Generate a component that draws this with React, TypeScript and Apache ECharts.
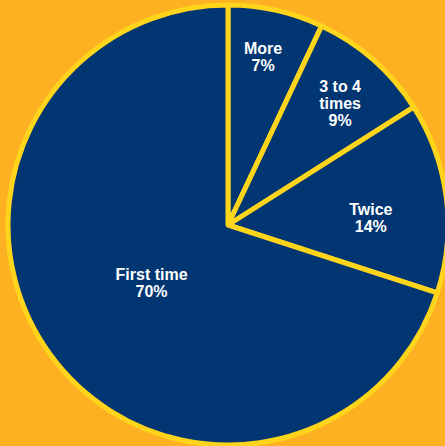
import React, { useEffect, useRef } from "react";
import * as echarts from "echarts";

const categories = ["More", "3 to 4\ntimes", "Twice", "First time"];
const values = [7, 9, 14, 70];

// label placement (layout only): fraction of radius and angular nudge in degrees
const labelRadiusFactor = [0.78, 0.75, 0.65, 0.435];
const labelAngleShift = [-0.8, 1.4, 4.2, -1];

const CX = 228;
const CY = 225;
const R = 220;

export default function App() {
  const ref = useRef<HTMLDivElement>(null);
  useEffect(() => {
    if (!ref.current) return;
    const chart = echarts.init(ref.current, undefined, { renderer: "svg" });
    const total = values.reduce((a, b) => a + b, 0);
    const mids: number[] = [];
    let acc = 0;
    values.forEach((v) => {
      mids.push(((acc + v / 2) / total) * Math.PI * 2);
      acc += v;
    });
    chart.setOption({
      animation: false,
      backgroundColor: "#FDB022",
      series: [
        {
          type: "pie",
          center: [CX, CY],
          radius: [0, R],
          startAngle: 90,
          clockwise: true,
          silent: true,
          emphasis: { disabled: true },
          itemStyle: { color: "#023672", borderColor: "#FFD51C", borderWidth: 5 },
          label: {
            show: true,
            position: "inside",
            color: "#ffffff",
            fontFamily: "'Liberation Sans', Arial, sans-serif",
            fontWeight: "bold",
            fontSize: 16,
            lineHeight: 17,
            align: "center",
            verticalAlign: "middle",
            formatter: (p: any) => `${p.name}\n${p.value}%`,
          },
          labelLine: { show: false },
          labelLayout: (p: any) => {
            const i = p.dataIndex;
            const a = mids[i] + (labelAngleShift[i] * Math.PI) / 180;
            const f = labelRadiusFactor[i];
            return { x: CX + f * R * Math.sin(a), y: CY - f * R * Math.cos(a) };
          },
          data: categories.map((c, i) => ({ name: c, value: values[i] })),
        },
      ],
    });
    return () => chart.dispose();
  }, []);
  return (
    <div
      ref={ref}
      style={{ position: "fixed", left: 0, top: 0, width: 445, height: 446 }}
    />
  );
}
